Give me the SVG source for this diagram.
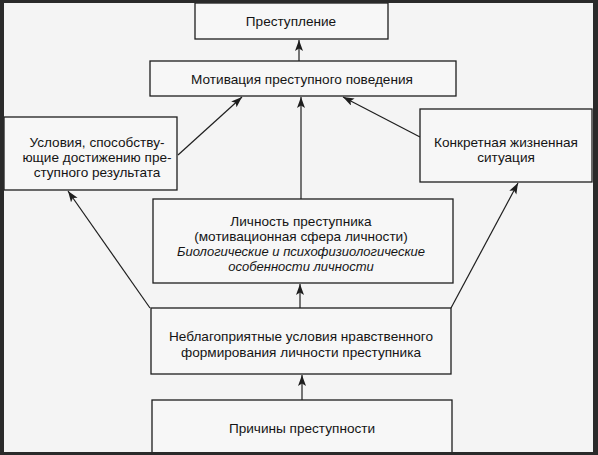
<svg xmlns="http://www.w3.org/2000/svg" width="598" height="455" viewBox="0 0 598 455">
<style>
.box{fill:#f7f7f7;stroke:#1e1e1e;stroke-width:1.3}
.t{font-family:"Liberation Sans",Arial,sans-serif;font-size:13.6px;fill:#141414;text-anchor:middle}
.i{font-style:italic;font-size:13px}
.c{stroke:#1e1e1e;stroke-width:1.2;fill:none;marker-end:url(#ah)}
</style>
<defs>
<marker id="ah" markerUnits="userSpaceOnUse" markerWidth="12" markerHeight="9" refX="11" refY="4" orient="auto">
<path d="M0,0 L11,4 L0,8 L2.5,4 z" fill="#1e1e1e"/>
</marker>
</defs>
<rect x="0" y="0" width="598" height="455" fill="#f4f4f4"/>
<g id="connectors">
<line class="c" x1="299" y1="61" x2="299" y2="40"/>
<line class="c" x1="178" y1="155" x2="242" y2="97"/>
<line class="c" x1="301" y1="199" x2="301" y2="97"/>
<line class="c" x1="420" y1="137" x2="343" y2="97"/>
<line class="c" x1="150" y1="308" x2="68" y2="191"/>
<line class="c" x1="451" y1="308" x2="518" y2="183"/>
<line class="c" x1="300" y1="308" x2="300" y2="284"/>
<line class="c" x1="302" y1="400" x2="302" y2="375"/>
</g>
<g id="n1"><rect class="box" x="195" y="3" width="193" height="36"/><text class="t" x="291" y="26">Преступление</text></g>
<g id="n2"><rect class="box" x="150" y="61" width="306" height="35"/><text class="t" x="302" y="84">Мотивация преступного поведения</text></g>
<g id="n3"><rect class="box" x="4" y="117" width="173" height="73"/>
<text class="t" x="97" y="147">Условия, способству-</text>
<text class="t" x="97" y="162">ющие достижению пре-</text>
<text class="t" x="97" y="177">ступного результата</text></g>
<g id="n4"><rect class="box" x="420" y="109" width="172" height="73"/>
<text class="t" x="506" y="147">Конкретная жизненная</text>
<text class="t" x="506" y="162">ситуация</text></g>
<g id="n5"><rect class="box" x="153" y="199" width="300" height="84"/>
<text class="t" x="301" y="226">Личность преступника</text>
<text class="t" x="301" y="241">(мотивационная сфера личности)</text>
<text class="t i" x="301" y="256">Биологические и психофизиологические</text>
<text class="t i" x="301" y="271">особенности личности</text></g>
<g id="n6"><rect class="box" x="151" y="308" width="300" height="66"/>
<text class="t" x="301" y="341">Неблагоприятные условия нравственного</text>
<text class="t" x="301" y="357">формирования личности преступника</text></g>
<g id="n7"><rect class="box" x="152" y="400" width="300" height="70"/>
<text class="t" x="302" y="433">Причины преступности</text></g>
<path d="M0,0 H598 V455 H0 Z M4,3 V452 H593 V3 Z" fill="#2a2a2a" fill-rule="evenodd"/>
</svg>
